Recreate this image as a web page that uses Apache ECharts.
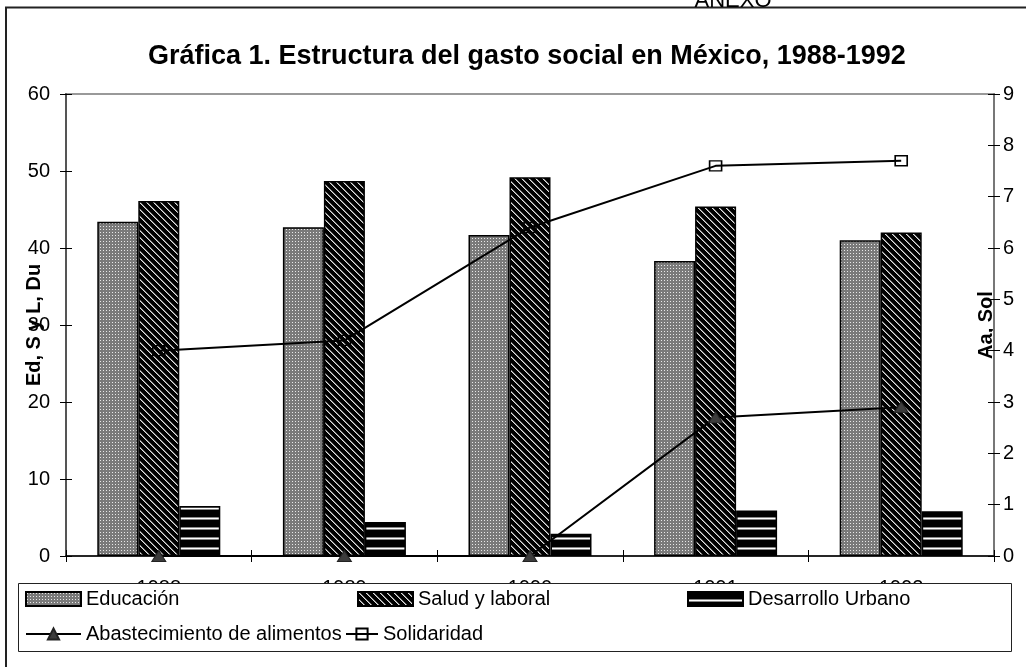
<!DOCTYPE html>
<html>
<head>
<meta charset="utf-8">
<title>Gráfica 1. Estructura del gasto social en México, 1988-1992</title>
<script src="https://cdn.jsdelivr.net/npm/echarts@6/dist/echarts.min.js"></script>
<style>
html, body { margin: 0; padding: 0; background: #fff; }
#main { width: 1026px; height: 667px; }
</style>
</head>
<body>
<div id="main"></div>
<script>
// datos
var years = ['1988', '1989', '1990', '1991', '1992'];
var educacion = [43.4, 42.7, 41.7, 38.3, 41.0];      // eje izq.
var salud = [46.1, 48.7, 49.2, 45.4, 42.0];          // eje izq.
var desarrollo = [6.5, 4.4, 2.9, 5.9, 5.8];          // eje izq.
var abastecimiento = [0, 0, 0, 2.7, 2.9];            // eje der.
var solidaridad = [4.0, 4.2, 6.4, 7.6, 7.7];         // eje der.

var FONT = '"Liberation Sans", Arial, sans-serif';

// tramas tipo excel (canvas pequeño que se repite)
function makePattern(w, h, draw) {
  var c = document.createElement('canvas');
  c.width = w;
  c.height = h;
  draw(c.getContext('2d'));
  return { image: c, repeat: 'repeat' };
}
function px(ctx, x, y, color) {
  ctx.fillStyle = color;
  ctx.fillRect(x, y, 1, 1);
}

var patEducacion = makePattern(3, 3, function (ctx) {
  ctx.fillStyle = '#7a7a7a';
  ctx.fillRect(0, 0, 3, 3);
  px(ctx, 1, 1, '#e8e8e8');
});
var patSalud = makePattern(7, 7, function (ctx) {
  ctx.fillStyle = '#000';
  ctx.fillRect(0, 0, 7, 7);
  for (var i = 0; i < 7; i++) {
    px(ctx, i, i, '#e0e0e0');
    px(ctx, (i + 1) % 7, i, '#777');
  }
});
var patDesarrollo = makePattern(4, 10, function (ctx) {
  ctx.fillStyle = '#000';
  ctx.fillRect(0, 0, 4, 10);
  ctx.fillStyle = '#888';
  ctx.fillRect(0, 7, 4, 1);
  ctx.fillStyle = '#fff';
  ctx.fillRect(0, 8, 4, 1);
  ctx.fillStyle = '#888';
  ctx.fillRect(0, 9, 4, 1);
});

// una leyenda por elemento para poder colocarlos como en excel
function legendItem(name, left, top, w, gap, icon) {
  var l = {
    data: [name], left: left, top: top, padding: 0,
    itemWidth: w, itemHeight: 14, itemTextGap: gap,
    selectedMode: false,
    textStyle: { fontSize: 20, color: '#000', fontFamily: FONT }
  };
  if (icon) l.icon = icon;
  return l;
}

var myChart = echarts.init(document.getElementById('main'));

myChart.setOption({
  animation: false,
  textStyle: { fontFamily: FONT, color: '#000' },
  title: {
    text: 'Gráfica 1. Estructura del gasto social en México, 1988-1992',
    left: 143,
    top: 38,
    textStyle: { fontSize: 27, fontWeight: 'bold', color: '#000', fontFamily: FONT }
  },
  graphic: [
    { // marco exterior
      type: 'rect', z: 1,
      shape: { x: 6, y: 7.5, width: 1100, height: 800 },
      style: { fill: null, stroke: '#222', lineWidth: 2 }
    },
    {
      type: 'text', z: 1,
      style: { text: 'ANEXO', x: 733, y: 12, align: 'center', verticalAlign: 'bottom',
        font: '22px ' + FONT, fill: '#000' }
    },
    { // caja de la leyenda, tapa las etiquetas de los años
      type: 'rect', z: 3,
      shape: { x: 18.5, y: 583.5, width: 993, height: 68 },
      style: { fill: '#fff', stroke: '#222', lineWidth: 1 }
    }
  ],
  legend: [
    legendItem('Educación', 25, 589, 55, 6, 'rect'),
    legendItem('Salud y laboral', 357, 589, 55, 6, 'rect'),
    legendItem('Desarrollo Urbano', 687, 589, 55, 6, 'rect'),
    legendItem('Abastecimiento de alimentos', 25, 624, 55, 6),
    legendItem('Solidaridad', 345, 624, 32, 3)
  ],
  grid: {
    left: 66, right: 32, top: 94, bottom: 111,
    outerBoundsMode: 'none',
    show: true, borderColor: '#999', borderWidth: 2
  },
  xAxis: [
    {
      type: 'category', data: years, position: 'bottom',
      axisLine: { lineStyle: { color: '#000', width: 1.5 } },
      axisTick: { show: true, length: 6, lineStyle: { color: '#000' } },
      axisLabel: { color: '#000', fontSize: 20, margin: 22, fontFamily: FONT },
      splitLine: { show: false }
    },
    { // marcas hacia dentro
      type: 'category', data: years, position: 'bottom',
      axisLine: { show: false },
      axisTick: { show: true, inside: true, length: 6, lineStyle: { color: '#000' } },
      axisLabel: { show: false },
      splitLine: { show: false }
    }
  ],
  yAxis: [
    {
      type: 'value', position: 'left', min: 0, max: 60, interval: 10,
      name: 'Ed, S y L, Du', nameLocation: 'middle', nameRotate: 90, nameGap: 22,
      nameMoveOverlap: false,
      nameTextStyle: { fontSize: 20, fontWeight: 'bold', color: '#000', fontFamily: FONT },
      axisLine: { show: true, lineStyle: { color: '#555', width: 2 } },
      axisTick: { show: true, length: 6, lineStyle: { color: '#000' } },
      axisLabel: { color: '#000', fontSize: 20, margin: 16, fontFamily: FONT },
      splitLine: { show: false }
    },
    {
      type: 'value', position: 'right', min: 0, max: 9, interval: 1,
      name: 'Aa, Sol', nameLocation: 'middle', nameRotate: 90, nameGap: -18,
      nameMoveOverlap: false,
      nameTextStyle: { fontSize: 20, fontWeight: 'bold', color: '#000', fontFamily: FONT },
      axisLine: { show: true, lineStyle: { color: '#777', width: 2 } },
      axisTick: { show: true, length: 6, lineStyle: { color: '#000' } },
      axisLabel: { color: '#000', fontSize: 20, margin: 9, fontFamily: FONT },
      splitLine: { show: false }
    },
    {
      type: 'value', position: 'left', min: 0, max: 60, interval: 10,
      axisLine: { show: false },
      axisTick: { show: true, inside: true, length: 6, lineStyle: { color: '#000' } },
      axisLabel: { show: false },
      splitLine: { show: false }
    },
    {
      type: 'value', position: 'right', min: 0, max: 9, interval: 1,
      axisLine: { show: false },
      axisTick: { show: true, inside: true, length: 6, lineStyle: { color: '#000' } },
      axisLabel: { show: false },
      splitLine: { show: false }
    }
  ],
  series: [
    {
      name: 'Educación', type: 'bar', yAxisIndex: 0,
      barWidth: 41, barGap: '0%',
      itemStyle: { color: patEducacion, borderColor: '#000', borderWidth: 1.5 },
      data: educacion
    },
    {
      name: 'Salud y laboral', type: 'bar', yAxisIndex: 0,
      barWidth: 41, barGap: '0%',
      itemStyle: { color: patSalud, borderColor: '#000', borderWidth: 1.5 },
      data: salud
    },
    {
      name: 'Desarrollo Urbano', type: 'bar', yAxisIndex: 0,
      barWidth: 41, barGap: '0%',
      itemStyle: { color: patDesarrollo, borderColor: '#000', borderWidth: 1.5 },
      data: desarrollo
    },
    {
      name: 'Abastecimiento de alimentos', type: 'line', yAxisIndex: 1,
      symbol: 'triangle', symbolSize: [14, 11],
      lineStyle: { color: '#000', width: 2 },
      itemStyle: { color: '#3c3c3c', borderColor: '#222', borderWidth: 1 },
      data: abastecimiento
    },
    {
      name: 'Solidaridad', type: 'line', yAxisIndex: 1,
      symbol: 'rect', symbolSize: [12, 10],
      lineStyle: { color: '#000', width: 2 },
      itemStyle: { color: 'rgba(0,0,0,0)', borderColor: '#000', borderWidth: 1.5 },
      data: solidaridad
    }
  ]
});
</script>
</body>
</html>
